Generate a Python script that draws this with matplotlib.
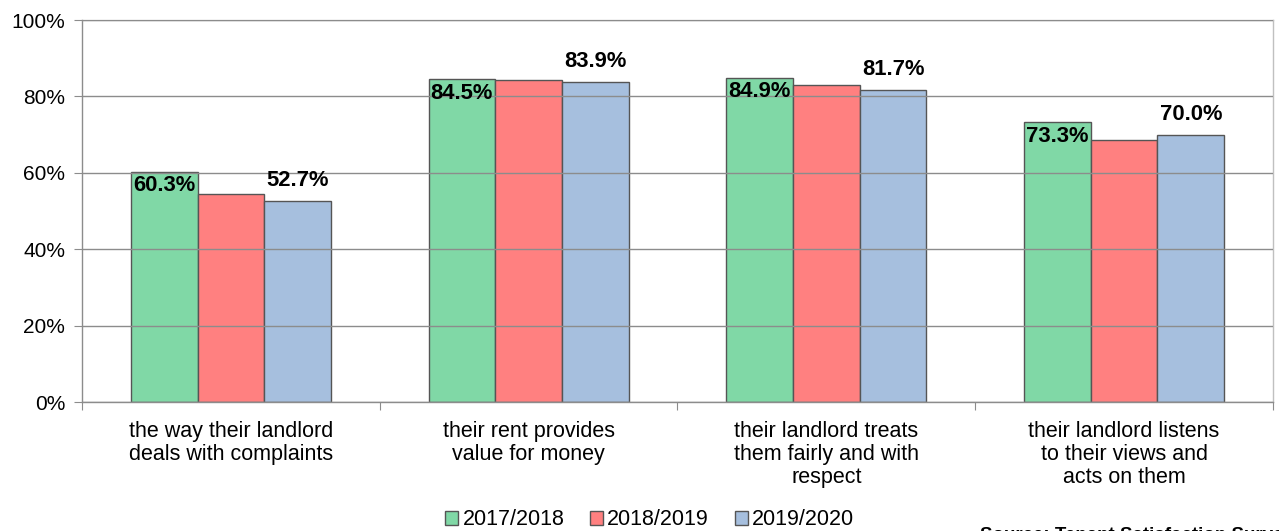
import matplotlib
matplotlib.use("Agg")
import matplotlib.pyplot as plt
import numpy as np

categories = [
    "the way their landlord\ndeals with complaints",
    "their rent provides\nvalue for money",
    "their landlord treats\nthem fairly and with\nrespect",
    "their landlord listens\nto their views and\nacts on them",
]
series_names = ["2017/2018", "2018/2019", "2019/2020"]
values_2017 = [60.3, 84.5, 84.9, 73.3]
values_2018 = [54.4, 84.2, 83.1, 68.6]
values_2019 = [52.7, 83.9, 81.7, 70.0]
yticks = [0, 20, 40, 60, 80, 100]

colors = ["#80d8a6", "#ff8080", "#a6bfde"]
series = [values_2017, values_2018, values_2019]

plt.rcParams["font.family"] = ["Liberation Sans", "DejaVu Sans"]

fig = plt.figure(figsize=(12.79, 5.31), dpi=100)
ax = fig.add_axes([0.0641, 0.2429, 0.9312, 0.7194])

x = np.arange(len(categories))
w = 0.224
for i, (vals, c, name) in enumerate(zip(series, colors, series_names)):
    ax.bar(x + (i - 1) * w, vals, width=w, color=c, edgecolor="#555555",
           linewidth=1.0, label=name, zorder=2)

# value labels: first series inside the bar top, last series above the bar
for xi, v in zip(x, values_2017):
    ax.text(xi - w, v - 3.7, f"{v:.1f}%", ha="center", va="center",
            fontsize=15.8, fontweight="bold", zorder=5)
for xi, v in zip(x, values_2019):
    ax.text(xi + w, v + 5.3, f"{v:.1f}%", ha="center", va="center",
            fontsize=15.8, fontweight="bold", zorder=5)

ax.set_xlim(-0.5, len(categories) - 0.5)
ax.set_ylim(0, 100)
ax.set_yticks(yticks)
ax.set_yticklabels([f"{t}%" for t in yticks], fontsize=15)
ax.yaxis.grid(True, color="#8c8c8c", linewidth=1.0, zorder=3)
ax.set_axisbelow(False)
for line in ax.get_ygridlines():
    line.set_zorder(3)

ax.set_xticks(np.arange(-0.5, len(categories), 1.0))
ax.set_xticklabels([])
ax.set_xticks(x, minor=True)
ax.set_xticklabels(categories, minor=True, fontsize=15.5, linespacing=1.12)
ax.tick_params(axis="x", which="minor", length=0, pad=14)
ax.tick_params(axis="x", which="major", length=6, color="#8c8c8c", direction="out")
ax.tick_params(axis="y", length=6, color="#8c8c8c", direction="out", pad=6)

for side in ["left", "bottom"]:
    ax.spines[side].set_color("#8c8c8c")
    ax.spines[side].set_linewidth(1.0)
for side in ["top", "right"]:
    ax.spines[side].set_color("#c0c0c0")
    ax.spines[side].set_linewidth(1.0)

leg = fig.legend(loc="center", bbox_to_anchor=(0.508, 0.021), ncol=3,
                 frameon=False, fontsize=15.5, handlelength=0.6,
                 handleheight=0.6, handletextpad=0.2, columnspacing=1.2,
                 borderpad=0.0)

fig.text(0.766, 0.0075, "Source: Tenant Satisfaction Survey", fontsize=13.5,
         fontweight="bold", ha="left", va="top")

fig.savefig("out.png", dpi=100)
